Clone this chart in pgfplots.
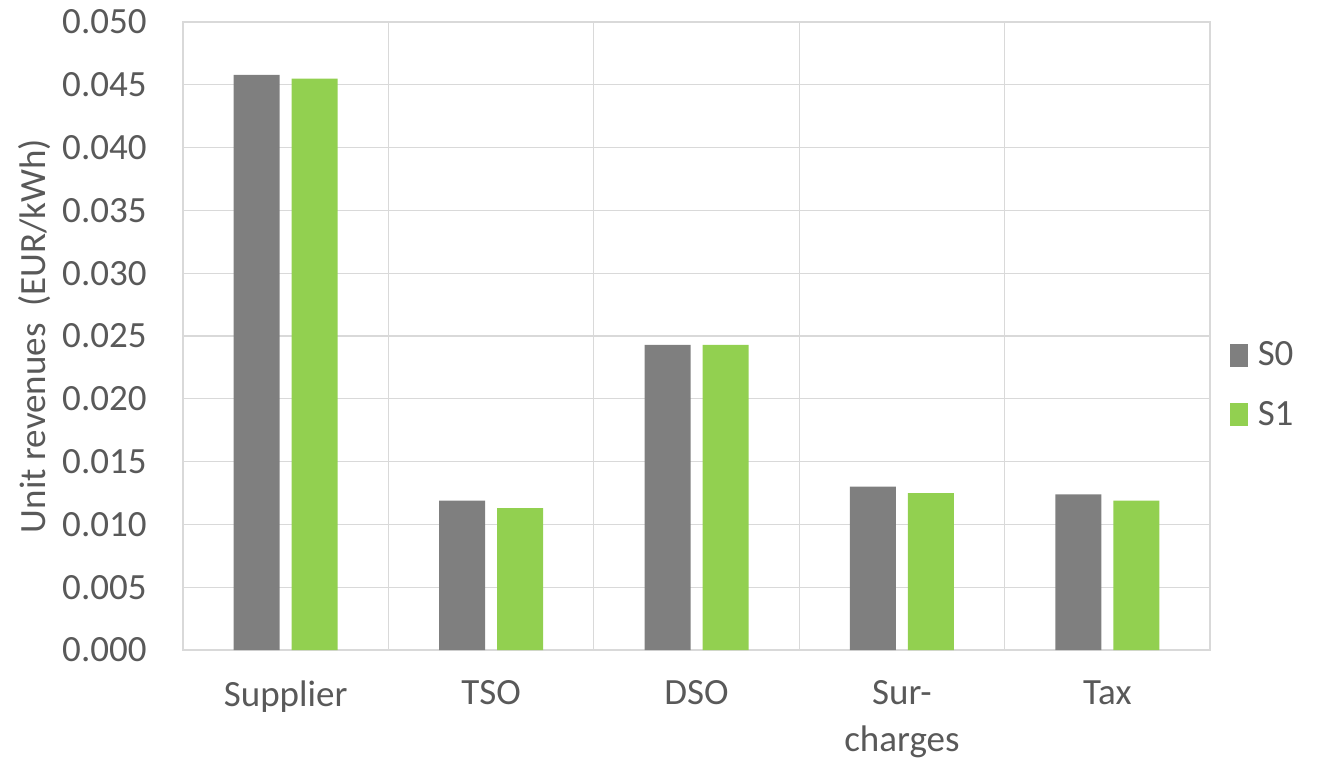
\documentclass[border=0pt]{standalone}
\usepackage{pgfplots}
\pgfplotsset{compat=1.18}
\usepackage{fontspec}
\setmainfont{Carlito}
\definecolor{txt}{HTML}{595959}
\definecolor{gridc}{HTML}{D9D9D9}
\definecolor{sgray}{HTML}{7F7F7F}
\definecolor{sgreen}{HTML}{92D050}
\begin{document}
\begin{tikzpicture}[x=1pt,y=1pt]
\useasboundingbox (0,0) rectangle (671,381);
\begin{axis}[
  at={(91.5pt,56pt)}, anchor=south west,
  scale only axis, width=513.5pt, height=314pt,
  ybar=6pt, bar width=23pt,
  xmin=-0.5, xmax=4.5, ymin=0, ymax=0.05,
  xtick={0,1,2,3,4},
  xticklabels={Supplier,TSO,DSO,{Sur-\\charges},Tax},
  minor xtick={0.5,1.5,2.5,3.5},
  ytick={0,0.005,0.01,0.015,0.02,0.025,0.03,0.035,0.04,0.045,0.05},
  scaled y ticks=false,
  major tick length=0pt, minor tick length=0pt,
  xminorgrids, ymajorgrids,
  grid style={gridc, line width=0.6pt},
  minor grid style={gridc, line width=0.6pt},
  axis line style={gridc, line width=0.6pt},
  font=\fontsize{18.5}{23.5}\selectfont,
  tick label style={text=txt},
  /pgf/number format/assume math mode=true,
  yticklabel style={/pgf/number format/fixed, /pgf/number format/fixed zerofill,
    /pgf/number format/precision=3,
    anchor=east, inner sep=0pt, xshift=-18pt},
  xticklabel style={anchor=north, inner sep=0pt, yshift=-15pt, align=center},
  ylabel={Unit revenues\ \ (EUR/kWh)},
  every axis y label/.style={at={(axis description cs:0,0.5)}, rotate=90,
    anchor=center, yshift=74pt, text=txt},
  legend style={at={(axis description cs:1.013,0.422)}, anchor=west,
    draw=none, fill=none, text=txt, row sep=12pt,
    /tikz/every odd column/.append style={column sep=3pt}},
  legend cell align=left,
  legend image code/.code={\fill[#1] (0pt,-5.75pt) rectangle (9pt,5.75pt);},
]
\addplot[fill=sgray, draw=none] coordinates
  {(0,0.0458) (1,0.0119) (2,0.0243) (3,0.0130) (4,0.0124)};
\addplot[fill=sgreen, draw=none] coordinates
  {(0,0.0455) (1,0.0113) (2,0.0243) (3,0.0125) (4,0.0119)};
\legend{S0,S1}
\end{axis}
\end{tikzpicture}
\end{document}
